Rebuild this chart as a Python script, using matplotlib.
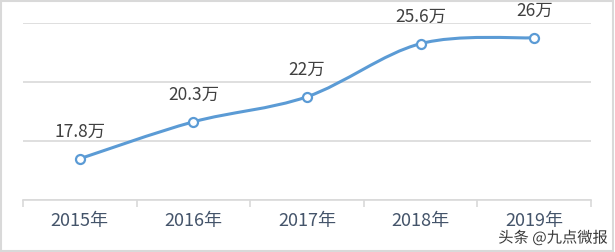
import numpy as np
import matplotlib
matplotlib.use('Agg')
import matplotlib.pyplot as plt
from matplotlib.path import Path
from matplotlib.patches import PathPatch, Rectangle
import matplotlib.patheffects as pe

plt.rcParams['font.family'] = ['Noto Sans CJK SC', 'DejaVu Sans']

years = ['2015年', '2016年', '2017年', '2018年', '2019年']
values = [17.8, 20.3, 22.0, 25.6, 26.0]
labels = ['17.8万', '20.3万', '22万', '25.6万', '26万']

fig = plt.figure(figsize=(6.15, 2.53), dpi=100)
ax = fig.add_axes([23 / 615, 52 / 253, 568 / 615, 177 / 253])

x = np.arange(len(values))
y = np.array(values)

# smoothed line like excel (catmull-rom -> bezier)
verts = [(x[0], y[0])]
codes = [Path.MOVETO]
for i in range(len(x) - 1):
    p0 = np.array([x[max(i - 1, 0)], y[max(i - 1, 0)]])
    p1 = np.array([x[i], y[i]])
    p2 = np.array([x[i + 1], y[i + 1]])
    p3 = np.array([x[min(i + 2, len(x) - 1)], y[min(i + 2, len(x) - 1)]])
    c1 = p1 + (p2 - p0) / 6
    c2 = p2 - (p3 - p1) / 6
    verts += [tuple(c1), tuple(c2), tuple(p2)]
    codes += [Path.CURVE4] * 3
ax.add_patch(PathPatch(Path(verts, codes), fill=False, edgecolor='#5B9BD5',
                       lw=2.2, capstyle='round', joinstyle='round', zorder=3))
ax.plot(x, y, ls='none', marker='o', ms=6.5, mfc='white', mec='#5B9BD5',
        mew=1.6, zorder=4)

for xi, yi, t in zip(x, y, labels):
    ax.annotate(t, (xi, yi), xytext=(0, 20), textcoords='offset points',
                ha='center', va='center', fontsize=12.5, color='#404040')

ax.set_xlim(-0.5, 4.5)
ax.set_ylim(15, 27)
ax.set_yticks([15, 19, 23, 27])
ax.yaxis.grid(True, color='#D9D9D9', lw=1.2)
ax.set_axisbelow(True)
ax.tick_params(axis='y', left=False, labelleft=False)

ax.set_xticks(x)
ax.set_xticklabels(years, fontsize=13, color='#44546A')
ax.tick_params(axis='x', length=0, pad=8)
ax.set_xticks(np.arange(-0.5, 5, 1), minor=True)
ax.tick_params(axis='x', which='minor', length=5, color='#D9D9D9', width=1.2)

for s in ['top', 'right', 'left']:
    ax.spines[s].set_visible(False)
ax.spines['bottom'].set_color('#D9D9D9')
ax.spines['bottom'].set_linewidth(1.2)

fig.patches.append(Rectangle((0.002, 0.004), 0.994, 0.99, transform=fig.transFigure,
                             fill=False, edgecolor='#D9D9D9', lw=1.5))

fig.text(0.988, 0.055, '头条 @九点微报', ha='right', va='center', fontsize=11,
         color='#3a3a3a',
         path_effects=[pe.withStroke(linewidth=2.5, foreground='white')])

fig.savefig('out.png', dpi=100)
